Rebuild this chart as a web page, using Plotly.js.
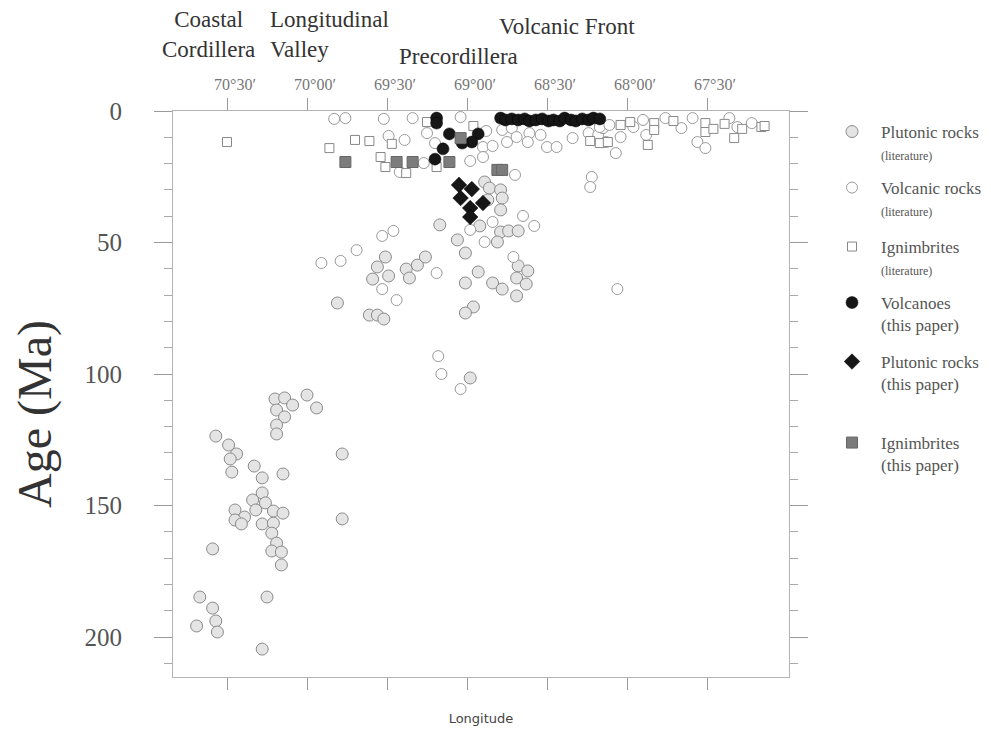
<!DOCTYPE html>
<html>
<head>
<meta charset="utf-8">
<script src="https://cdn.plot.ly/plotly-3.0.1.min.js"></script>
<style>html,body{margin:0;padding:0;background:#fff;}#chart{width:991px;height:735px;}</style>
</head>
<body>
<div id="chart"></div>
<script>
// ---- Data (longitude in decimal degrees W, age in Ma) ----
const plutLitLon = [70.20,70.14,70.09,70.19,70.14,70.19,70.19,70.00,69.94,70.57,70.49,70.44,70.48,70.47,70.33,70.28,70.15,69.78,70.28,70.34,70.26,70.32,70.21,70.15,70.45,70.39,70.45,70.41,70.28,70.21,70.22,70.19,70.22,70.16,70.16,69.78,70.59,70.67,70.59,70.57,70.56,70.69,70.25,70.28,
  69.51,69.56,69.49,69.38,69.31,69.36,69.59,69.81,69.61,69.56,69.52,
  68.89,68.86,68.79,68.78,68.87,68.79,69.17,68.92,68.79,68.74,68.68,69.06,68.81,69.01,68.68,68.62,68.69,68.63,69.26,68.93,69.01,68.84,68.78,68.69,68.96,69.01,68.98];
const plutLitAge = [109.5,109.1,111.8,113.7,116.3,119.4,122.8,108.0,112.9,123.6,127.0,130.4,132.3,137.3,135.0,139.5,138.0,130.4,145.2,147.9,149.0,151.7,152.1,152.9,151.7,154.4,155.5,157.0,157.0,156.7,160.5,164.3,167.3,167.7,172.6,155.1,166.5,184.8,189.0,193.9,198.1,195.8,184.8,204.6,
  55.5,59.3,62.7,60.1,58.6,63.5,63.9,73.0,77.6,77.6,79.1,
  27.0,29.3,30.0,33.1,33.8,37.6,43.3,43.7,46.0,45.6,45.6,49.0,49.8,54.0,58.9,60.8,63.5,65.8,55.5,61.2,65.4,65.4,67.7,70.3,74.5,76.8,101.5];

const volcLitLon = [69.83,69.76,69.52,69.34,69.49,69.39,69.04,69.25,69.20,68.88,69.27,69.42,68.98,68.70,68.78,68.72,68.75,68.69,68.61,68.62,68.54,68.50,68.44,68.34,68.24,68.18,68.15,68.13,68.22,68.23,68.07,67.96,67.90,67.88,67.76,67.66,67.59,67.56,67.51,67.36,67.31,67.22,68.17,68.11,68.04,
  68.90,68.84,68.90,68.65,68.58,68.84,68.98,68.89,68.71,69.19,68.06,
  69.53,69.46,69.69,69.91,69.79,69.53,69.44,69.18,69.16,69.04];
const volcLitAge = [3.0,2.7,3.0,2.7,9.5,11.0,2.3,8.4,12.2,7.6,19.8,23.2,19.0,24.3,7.2,6.5,11.8,9.9,8.4,11.8,9.1,13.7,13.7,10.3,8.4,9.1,6.5,11.8,25.1,28.9,16.0,6.1,3.4,9.1,2.7,6.5,2.7,11.8,14.1,2.7,6.1,4.6,6.1,5.3,9.9,
  13.7,13.3,17.5,39.9,43.7,42.2,45.2,49.8,55.5,61.6,67.7,
  47.5,45.6,52.9,57.8,57.0,67.7,71.9,93.2,100.0,105.7];

const ignLitLon = [70.50,69.86,69.70,69.61,69.47,69.54,69.51,69.38,69.25,68.96,69.19,68.23,68.17,68.12,68.04,67.98,67.83,67.83,67.87,67.71,67.51,67.51,67.46,67.39,67.28,67.33,67.16,67.14];
const ignLitAge = [11.8,14.1,11.0,11.4,12.5,17.5,21.3,23.6,4.2,5.7,21.3,11.4,12.2,11.8,5.3,4.2,4.6,7.2,12.9,3.8,4.6,8.0,6.8,4.9,6.8,10.3,6.1,5.7];

const volcanoLon = [69.19,69.19,69.11,68.93,68.97,69.03,69.15,69.20,
  68.79,68.76,68.72,68.68,68.64,68.61,68.57,68.53,68.49,68.46,68.42,68.39,68.35,68.32,68.28,68.24,68.21,68.17];
const volcanoAge = [2.7,4.6,8.7,8.7,11.8,12.2,14.4,18.3,
  2.7,3.4,3.0,3.4,3.0,3.8,3.4,3.0,3.8,3.4,3.8,2.7,3.4,3.8,3.0,3.4,2.7,3.0];

const plutPaperLon = [69.05,68.97,69.04,68.90,68.98,68.98];
const plutPaperAge = [28.1,29.7,33.1,35.0,36.9,40.3];

const ignPaperLon = [69.76,69.44,69.34,69.11,69.04,68.81,68.78];
const ignPaperAge = [19.4,19.4,19.4,19.4,10.3,22.4,22.4];

const lonTicks = [70.5,70.0,69.5,69.0,68.5,68.0,67.5];
const lonTickText = ["70°30′","70°00′","69°30′","69°00′","68°30′","68°00′","67°30′"];
const ageTicks = [0,50,100,150,200];

const regionNames = ["Coastal<br>Cordillera","Longitudinal<br>Valley","Precordillera","Volcanic Front"];
const yTitle = "Age (Ma)";
const xTitle = "Longitude";

const legendNames = [
  "Plutonic rocks<br><span style='font-size:12px'>(literature)</span>",
  "Volcanic rocks<br><span style='font-size:12px'>(literature)</span>",
  "Ignimbrites<br><span style='font-size:12px'>(literature)</span>",
  "Volcanoes<br>(this paper)",
  "Plutonic rocks<br>(this paper)",
  "Ignimbrites<br>(this paper)"
];

// ---- Traces ----
const traces = [
  {x: plutLitLon, y: plutLitAge, name: legendNames[0], legend: 'legend',
   marker: {symbol: 'circle', size: 12, color: '#e4e4e4', line: {color: '#8a8a8a', width: 1}}},
  {x: volcLitLon, y: volcLitAge, name: legendNames[1], legend: 'legend2',
   marker: {symbol: 'circle', size: 11, color: '#ffffff', line: {color: '#9a9a9a', width: 1}}},
  {x: ignLitLon, y: ignLitAge, name: legendNames[2], legend: 'legend3',
   marker: {symbol: 'square', size: 9, color: '#ffffff', line: {color: '#888888', width: 1}}},
  {x: volcanoLon, y: volcanoAge, name: legendNames[3], legend: 'legend4',
   marker: {symbol: 'circle', size: 12, color: '#161616', line: {color: '#000000', width: 0.5}}},
  {x: plutPaperLon, y: plutPaperAge, name: legendNames[4], legend: 'legend5',
   marker: {symbol: 'diamond', size: 12, color: '#161616', line: {color: '#000000', width: 0.5}}},
  {x: ignPaperLon, y: ignPaperAge, name: legendNames[5], legend: 'legend6',
   marker: {symbol: 'square', size: 11, color: '#7c7c7c', line: {color: '#666666', width: 1}}}
].map(t => Object.assign({type: 'scatter', mode: 'markers', xaxis: 'x', yaxis: 'y', hoverinfo: 'x+y'}, t));
// empty trace so the top axis is registered
traces.push({type: 'scatter', mode: 'markers', x: [], y: [], xaxis: 'x2', yaxis: 'y', showlegend: false, hoverinfo: 'skip'});

const W = 991, H = 735, L = 173, R = 202, T = 111, B = 58;
const pw = W - L - R, ph = H - T - B;
const px = v => (v - L) / pw;
const py = v => (H - B - v) / ph;

const xRange = [70.8375, 66.9875];
const yRange = [215.2, 0];
const serif = 'Liberation Serif, Times New Roman, serif';
const legFont = {family: serif, size: 17, color: '#555'};

function leg(yTop) {
  return {x: px(823), y: py(yTop), xanchor: 'left', yanchor: 'top', xref: 'paper', yref: 'paper',
          bgcolor: 'rgba(0,0,0,0)', borderwidth: 0, font: legFont, valign: 'top', itemwidth: 48,
          itemclick: false, itemdoubleclick: false, tracegroupgap: 0};
}

const layout = {
  width: W, height: H,
  margin: {l: L, r: R, t: T, b: B, autoexpand: false},
  paper_bgcolor: '#fff', plot_bgcolor: '#fff',
  showlegend: true,
  xaxis: {
    range: xRange, showgrid: false, zeroline: false,
    showline: true, linecolor: '#b4b4b4', linewidth: 1,
    tickmode: 'array', tickvals: lonTicks, showticklabels: false,
    ticks: 'outside', ticklen: 12, tickcolor: '#9a9a9a',
    title: {text: xTitle, standoff: 24, font: {family: 'DejaVu Sans, sans-serif', size: 13, color: '#444'}}
  },
  xaxis2: {
    overlaying: 'x', side: 'top', anchor: 'y',
    range: xRange, showgrid: false, zeroline: false,
    showline: true, linecolor: '#b4b4b4', linewidth: 1,
    tickmode: 'array', tickvals: lonTicks, ticktext: lonTickText,
    ticks: 'outside', ticklen: 12, tickcolor: '#9a9a9a',
    ticklabelstandoff: 2, ticklabelshift: -8,
    tickfont: {family: serif, size: 16, color: '#777'}
  },
  yaxis: {
    range: yRange, showgrid: false, zeroline: false,
    showline: true, linecolor: '#b4b4b4', linewidth: 1, mirror: 'ticks',
    tickmode: 'array', tickvals: ageTicks,
    ticks: 'outside', ticklen: 18, tickcolor: '#9a9a9a',
    minor: {dtick: 10, ticks: 'outside', ticklen: 8, tickcolor: '#aaaaaa', showgrid: false},
    ticklabelstandoff: 27,
    tickfont: {family: serif, size: 25, color: '#555'}
  },
  legend: leg(114),
  legend2: leg(170),
  legend3: leg(229),
  legend4: leg(285),
  legend5: leg(344),
  legend6: leg(425),
  annotations: [
    {text: regionNames[0], x: px(208), y: py(35), align: 'center', xanchor: 'center'},
    {text: regionNames[1], x: px(268), y: py(35), align: 'left', xanchor: 'left'},
    {text: regionNames[2], x: px(397), y: py(57), align: 'left', xanchor: 'left'},
    {text: regionNames[3], x: px(497), y: py(26), align: 'left', xanchor: 'left'}
  ].map(a => Object.assign({xref: 'paper', yref: 'paper', yanchor: 'middle', showarrow: false,
      font: {family: serif, size: 23, color: '#333'}}, a)).concat([
    {text: yTitle, x: px(35), y: py(414), xref: 'paper', yref: 'paper', xanchor: 'center', yanchor: 'middle',
     textangle: -90, showarrow: false, font: {family: serif, size: 48, color: '#333'}}
  ])
};

Plotly.newPlot('chart', traces, layout, {staticPlot: true, displayModeBar: false});
</script>
</body>
</html>
